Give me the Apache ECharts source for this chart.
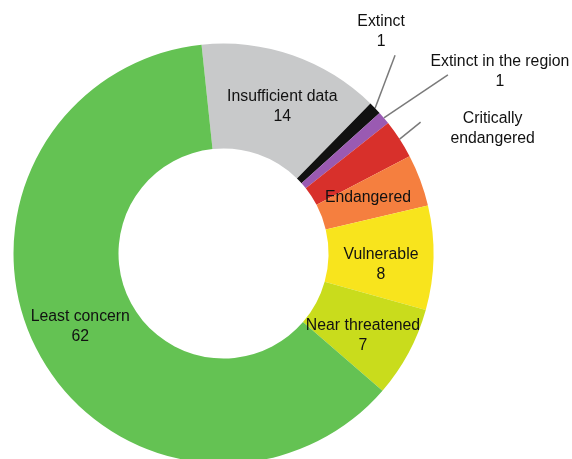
<!DOCTYPE html>
<html>
<head>
<meta charset="utf-8">
<script src="https://cdn.jsdelivr.net/npm/echarts@6/dist/echarts.min.js"></script>
<style>
  html, body { margin: 0; padding: 0; background: #ffffff; }
  #chart { width: 572px; height: 459px; }
</style>
</head>
<body>
<div id="chart"></div>
<script>
// Conservation status of species, in clockwise order from the top
const categories = [
  'Insufficient data',
  'Extinct',
  'Extinct in the region',
  'Critically\nendangered',
  'Endangered',
  'Vulnerable',
  'Near threatened',
  'Least concern'
];
const values = [14, 1, 1, 3, 4, 8, 7, 62];
// whether the count is printed under the category name
const showValue = [true, true, true, false, false, true, true, true];

const colors = ['#c8c9ca', '#111111', '#9a5ab2', '#d8302b', '#f57f3f', '#f8e41d', '#c9dc1c', '#64c253'];

// Leader lines for the thin slices: line vector from the slice edge, then label offset from the line end
const leaders = {
  1: { line: [20, -53], text: [-14, -24] },
  2: { line: [64, -43], text: [52, -3] },
  3: { line: [21, -17], text: [72, 7] }
};
// Small nudges for the labels drawn inside the ring
const insideNudge = {
  0: [6, 5],
  4: [-6, 0],
  5: [-3, 8],
  6: [-2, 6],
  7: [-1, -1]
};

const chart = echarts.init(document.getElementById('chart'), null, { renderer: 'canvas' });

const data = categories.map((name, i) => {
  const outside = leaders[i] !== undefined;
  return {
    name: name,
    value: values[i],
    itemStyle: { color: colors[i] },
    label: { position: outside ? 'outside' : 'inside' },
    labelLine: { show: outside, length: 10, length2: 0 }
  };
});

chart.setOption({
  backgroundColor: '#ffffff',
  animation: false,
  series: [{
    type: 'pie',
    center: [223.5, 253.5],
    radius: [105, 210],
    startAngle: 96,
    clockwise: true,
    avoidLabelOverlap: false,
    itemStyle: { borderWidth: 0 },
    label: {
      show: true,
      color: '#111111',
      fontFamily: '"Liberation Sans", Arial, Helvetica, sans-serif',
      fontSize: 15.8,
      lineHeight: 20,
      align: 'center',
      formatter: function (p) {
        return showValue[p.dataIndex] ? p.name + '\n' + p.value : p.name;
      }
    },
    labelLine: {
      lineStyle: { color: '#7a7a7a', width: 1.5 }
    },
    labelLayout: function (p) {
      const lead = leaders[p.dataIndex];
      if (!lead) {
        const n = insideNudge[p.dataIndex] || [0, 0];
        return { dx: n[0], dy: n[1] };
      }
      if (!p.labelLinePoints) return {};
      const a = p.labelLinePoints[0];
      const end = [a[0] + lead.line[0], a[1] + lead.line[1]];
      return {
        x: end[0] + lead.text[0],
        y: end[1] + lead.text[1],
        align: 'center',
        verticalAlign: 'middle',
        labelLinePoints: [a, end]
      };
    },
    data: data
  }]
});
</script>
</body>
</html>
